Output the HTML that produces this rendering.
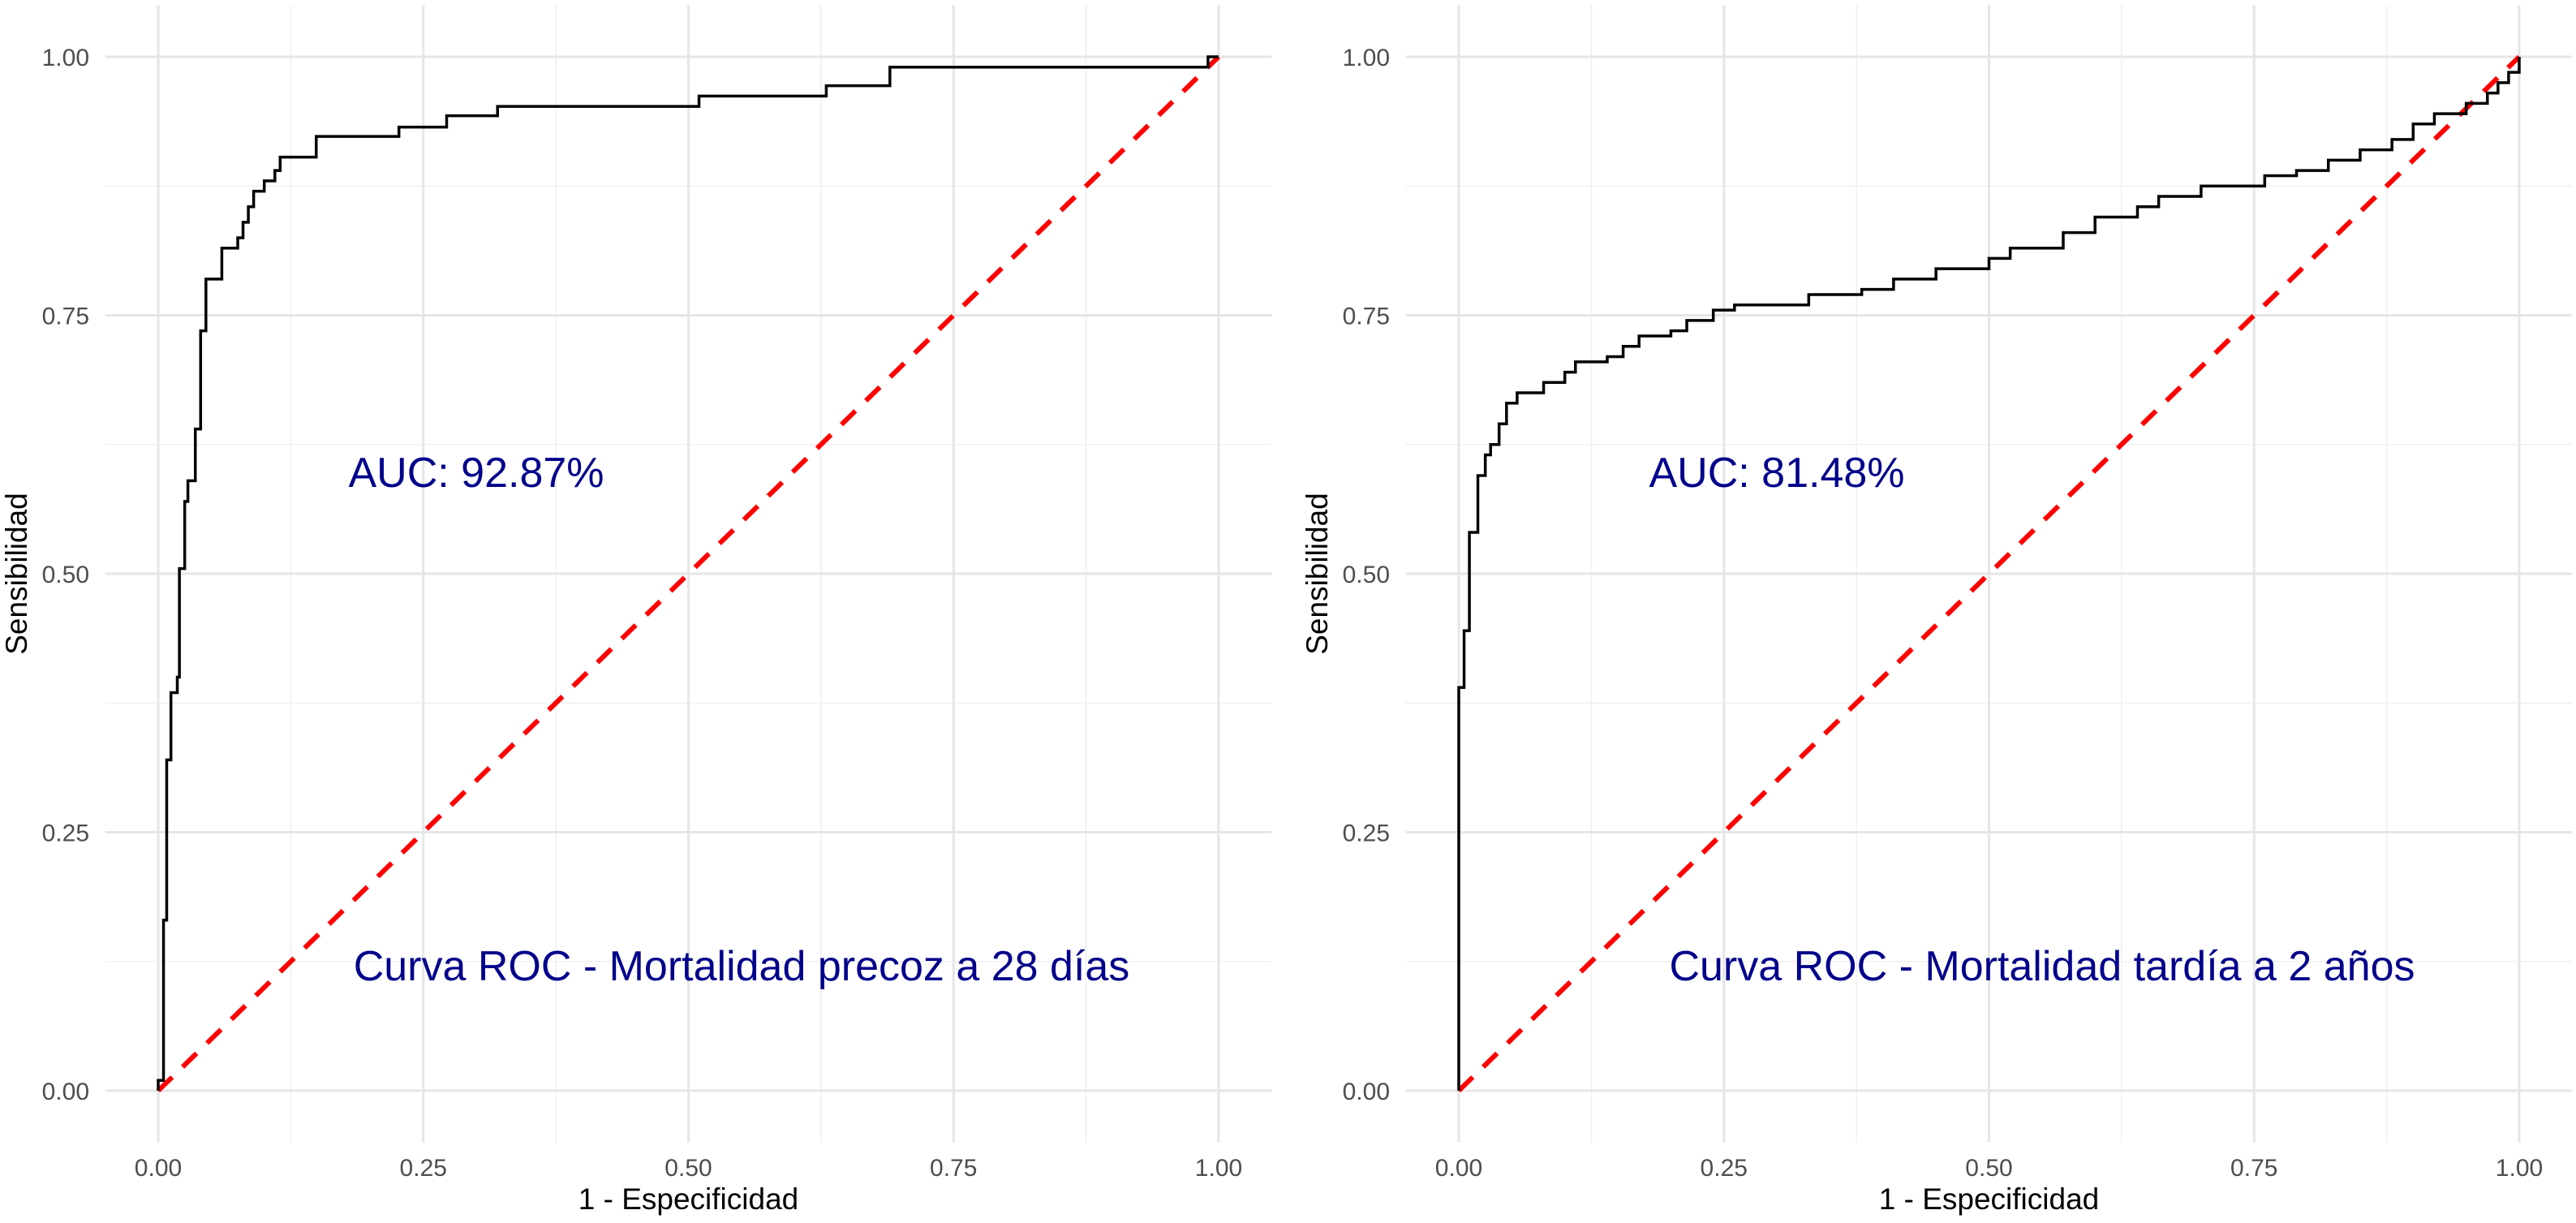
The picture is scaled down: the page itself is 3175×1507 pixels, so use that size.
<!DOCTYPE html>
<html><head><meta charset="utf-8">
<style>
html,body{margin:0;padding:0;background:#fff;}
svg{display:block;font-family:"Liberation Sans",Arial,sans-serif;}
</style></head>
<body>
<svg id="chart" width="3175" height="1507" viewBox="0 0 3175 1507" xmlns="http://www.w3.org/2000/svg">
<rect width="3175" height="1507" fill="#fff"/>
</svg>
<script>
const tickValues = [0, 0.25, 0.5, 0.75, 1];
const tickLabels = ["0.00", "0.25", "0.50", "0.75", "1.00"];
const minorValues = [0.125, 0.375, 0.625, 0.875];
const leftFpr = [0,0,0.005,0.008,0.012,0.018,0.02,0.025,0.028,0.035,0.04,0.045,0.06,0.075,0.08,0.085,0.09,0.10,0.11,0.115,0.149,0.227,0.272,0.32,0.51,0.63,0.69,0.99,1.0];
const leftTpr = [0,0.01,0.165,0.32,0.385,0.40,0.505,0.57,0.59,0.64,0.735,0.785,0.815,0.825,0.84,0.855,0.87,0.88,0.89,0.903,0.923,0.932,0.943,0.952,0.962,0.972,0.99,1.0,1.0];
const rightFpr = [0,0,0.005,0.01,0.018,0.025,0.03,0.038,0.045,0.055,0.08,0.1,0.11,0.14,0.155,0.17,0.2,0.215,0.24,0.26,0.33,0.38,0.41,0.45,0.5,0.52,0.57,0.6,0.64,0.66,0.7,0.76,0.79,0.82,0.85,0.88,0.9,0.92,0.95,0.97,0.98,0.99,1.0];
const rightTpr = [0,0.39,0.445,0.54,0.595,0.615,0.625,0.645,0.665,0.675,0.685,0.695,0.705,0.71,0.72,0.73,0.735,0.745,0.755,0.76,0.77,0.775,0.785,0.795,0.805,0.815,0.83,0.845,0.855,0.865,0.875,0.885,0.89,0.9,0.91,0.92,0.935,0.945,0.955,0.965,0.975,0.985,1.0];
const aucLabels = ["AUC: 92.87%", "AUC: 81.48%"];
const captions = ["Curva ROC - Mortalidad precoz a 28 días", "Curva ROC - Mortalidad tardía a 2 años"];

const NS = "http://www.w3.org/2000/svg";
const svg = document.getElementById("chart");
function mk(tag, attrs, parent) {
  const e = document.createElementNS(NS, tag);
  for (const k in attrs) e.setAttribute(k, attrs[k]);
  (parent || svg).appendChild(e);
  return e;
}
const Y0 = 1344, Y1 = 70, W = 1307;
const panels = [
  {x0: 195, fpr: leftFpr, tpr: leftTpr, key: "left"},
  {x0: 1798, fpr: rightFpr, tpr: rightTpr, key: "right"}
];
panels.forEach((p, pi) => {
  const sx = v => p.x0 + v * W;
  const sy = v => Y0 - v * (Y0 - Y1);
  const g = mk("g", {});
  
  
  const left = sx(-0.05), right = sx(1.05), top = sy(1.05), bot = sy(-0.05);
  minorValues.forEach(v => {
    const l1 = mk("line", {x1: left, x2: right, y1: sy(v), y2: sy(v), stroke: "#f0f0f0", "stroke-width": 1.6}, g);
    
    
    const l2 = mk("line", {x1: sx(v), x2: sx(v), y1: top, y2: bot, stroke: "#f0f0f0", "stroke-width": 1.6}, g);
    
    
  });
  tickValues.forEach((v, i) => {
    const l1 = mk("line", {x1: left, x2: right, y1: sy(v), y2: sy(v), stroke: "#e6e6e6", "stroke-width": 3}, g);
    
    
    const l2 = mk("line", {x1: sx(v), x2: sx(v), y1: top, y2: bot, stroke: "#e6e6e6", "stroke-width": 3}, g);
    
    
    const ty = mk("text", {x: p.x0 - 85, y: sy(v) + 11, "text-anchor": "end", "font-size": 30, fill: "#4d4d4d"}, g);
    ty.textContent = tickLabels[i];
    
    
    const tx = mk("text", {x: sx(v), y: 1449, "text-anchor": "middle", "font-size": 30, fill: "#4d4d4d"}, g);
    tx.textContent = tickLabels[i];
    
    
  });
  // diagonal
  const diag = mk("line", {x1: sx(0), y1: sy(0), x2: sx(1), y2: sy(1), stroke: "#ff0000", "stroke-width": 6, "stroke-dasharray": "24 18"}, g);
  
  
  // ROC step curve
  let d = "M" + sx(p.fpr[0]) + "," + sy(p.tpr[0]);
  for (let i = 1; i < p.fpr.length; i++) {
    d += " H" + sx(p.fpr[i]) + " V" + sy(p.tpr[i]);
  }
  const curve = mk("path", {d: d, fill: "none", stroke: "#000", "stroke-width": 3.5}, g);
  
  
  const auc = mk("text", {x: p.x0 + 392, y: 600, "text-anchor": "middle", "font-size": 52, fill: "#00008B"}, g);
  auc.textContent = aucLabels[pi];
  
  
  const cap = mk("text", {x: p.x0 + 719, y: 1208, "text-anchor": "middle", "font-size": 52, fill: "#00008B"}, g);
  cap.textContent = captions[pi];
  
  
  const xt = mk("text", {x: p.x0 + W / 2, y: 1490, "text-anchor": "middle", "font-size": 37, fill: "#000"}, g);
  xt.textContent = "1 - Especificidad";
  
  
  const yx = p.x0 - 162, yy = (Y0 + Y1) / 2;
  const yt = mk("text", {x: yx, y: yy, "text-anchor": "middle", "font-size": 37, fill: "#000", transform: "rotate(-90 " + yx + " " + yy + ")"}, g);
  yt.textContent = "Sensibilidad";
  
  
});
</script>
</body></html>
